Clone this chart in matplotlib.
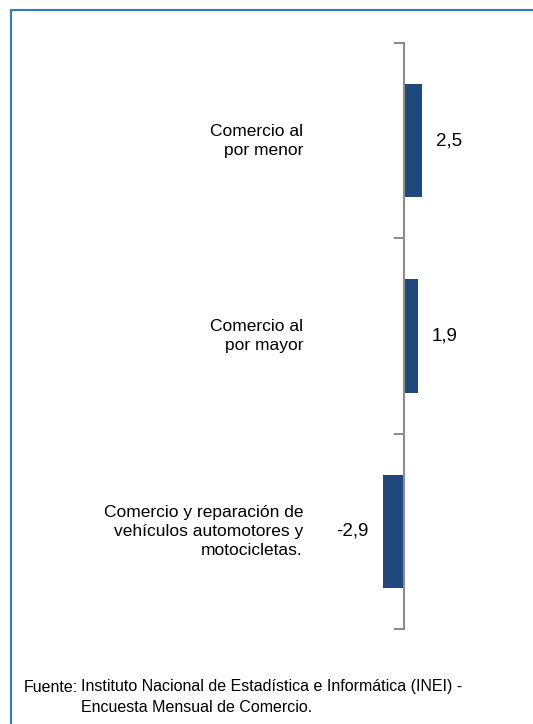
import matplotlib.pyplot as plt
from matplotlib.lines import Line2D

# Datos
categorias = ['Comercio al\npor menor',
              'Comercio al\npor mayor',
              'Comercio y reparación de\nvehículos automotores y\nmotocicletas.']
valores = [2.5, 1.9, -2.9]
etiquetas = ['2,5', '1,9', '-2,9']
fuente = ['Instituto Nacional de Estadística e Informática (INEI) -',
          'Encuesta Mensual de Comercio.']

plt.rcParams['font.family'] = ['Liberation Sans', 'DejaVu Sans']

W, H = 533, 724
fig = plt.figure(figsize=(W / 100, H / 100), dpi=100)

# Eje: de y=43 a y=629 px, eje vertical en x=404 px
ppu = 7.3  # pixeles por unidad
ax = fig.add_axes([0, (H - 629) / H, 1, 586 / H])
ax.set_xlim(-404 / ppu, (W - 404) / ppu)
pos = list(range(len(valores)))
ax.set_ylim(len(valores) - 0.5, -0.5)

ax.barh(pos, valores, height=0.58, color='#1F497D')

for s in ['top', 'right', 'bottom']:
    ax.spines[s].set_visible(False)
ax.spines['left'].set_position(('data', 0))
ax.spines['left'].set_color('#8C8C8C')
ax.spines['left'].set_linewidth(1.5)
ax.set_xticks([])
ax.set_yticks([p - 0.5 for p in pos] + [len(valores) - 0.5])
ax.tick_params(axis='y', direction='out', length=7.2, width=1.5,
               color='#8C8C8C', labelleft=False)
ax.patch.set_visible(False)

for p, v, lab, cat in zip(pos, valores, etiquetas, categorias):
    ax.annotate(lab, xy=(v, p), xytext=(10 if v > 0 else -10, 0),
                textcoords='offset points', ha='left' if v > 0 else 'right',
                va='center', fontsize=13.5)
    ax.annotate(cat, xy=(0, p), xytext=(-72.7, 0), textcoords='offset points',
                ha='right', va='center', ma='right', fontsize=12.5,
                linespacing=1.35)

# Marco
fig.add_artist(Line2D([11 / W, 11 / W, 1], [0, 1 - 10 / H, 1 - 10 / H],
                      color='#2E7BC4', linewidth=1.5))

# Fuente
fig.text(24 / W, 1 - 687 / H, 'Fuente:', fontsize=11.5, va='center')
fig.text(81 / W, 1 - 687 / H, fuente[0], fontsize=11.5, va='center')
fig.text(81 / W, 1 - 708 / H, fuente[1], fontsize=11.5, va='center')

fig.savefig('out.png', dpi=100)
